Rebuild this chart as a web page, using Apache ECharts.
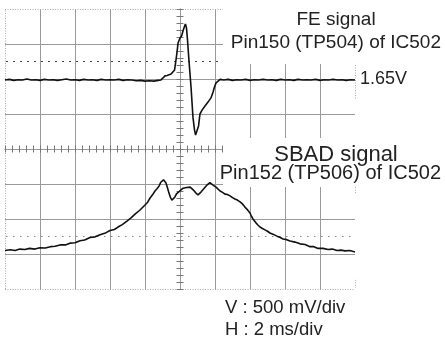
<!DOCTYPE html>
<html>
<head>
<meta charset="utf-8">
<script src="https://cdn.jsdelivr.net/npm/echarts@6/dist/echarts.min.js"></script>
<style>
  html, body { margin: 0; padding: 0; background: #fff; }
  #main { width: 445px; height: 344px; }
</style>
</head>
<body>
<div id="main"></div>
<script>
// time in ms (2 ms/div), level in divisions (500 mV/div)
const timeTicks = [-10, -8, -6, -4, -2, 0, 2, 4, 6, 8, 10];
const levelTicks = [-4, -3, -2, -1, 0, 1, 2, 3, 4];

const feSignal = [
  [-10, 1.97], [-9.75, 1.99], [-9.5, 1.96], [-9.25, 1.98], [-9, 1.97], [-8.75, 2.0],
  [-8.5, 1.97], [-8.25, 1.98], [-8, 1.96], [-7.75, 1.99], [-7.5, 1.97], [-7.25, 1.98],
  [-7, 1.96], [-6.75, 1.98], [-6.5, 2.0], [-6.25, 1.97], [-6, 1.98], [-5.75, 1.96],
  [-5.5, 1.99], [-5.25, 1.97], [-5, 1.98], [-4.75, 1.96], [-4.5, 1.99], [-4.25, 1.97],
  [-4, 1.98], [-3.75, 1.97], [-3.5, 1.99], [-3.25, 1.96], [-3, 1.98], [-2.75, 1.97],
  [-2.5, 1.95], [-2.25, 1.96], [-2, 1.94], [-1.75, 1.95], [-1.5, 1.94], [-1.25, 1.96],
  [-1.1, 1.97], [-0.97, 2.03], [-0.86, 2.09], [-0.74, 2.10], [-0.63, 2.07], [-0.51, 2.14],
  [-0.40, 2.17], [-0.31, 2.26], [-0.23, 2.54], [-0.17, 2.77], [-0.11, 3.03], [0, 3.17],
  [0.09, 3.23], [0.17, 3.37], [0.26, 3.51], [0.31, 3.57], [0.37, 3.46], [0.43, 3.11],
  [0.51, 2.54], [0.63, 1.77], [0.74, 0.91], [0.83, 0.54], [0.89, 0.40], [0.94, 0.36],
  [1.0, 0.43], [1.06, 0.66], [1.14, 1.00], [1.26, 1.11], [1.43, 1.23], [1.60, 1.34],
  [1.77, 1.46], [1.89, 1.63], [1.97, 1.77], [2.06, 1.89], [2.17, 1.94], [2.29, 1.99],
  [2.5, 1.97], [2.75, 1.99], [3, 1.96], [3.25, 1.98], [3.5, 1.97], [3.75, 1.99],
  [4, 1.96], [4.25, 1.98], [4.5, 1.97], [4.75, 1.99], [5, 1.97], [5.25, 1.98],
  [5.5, 1.96], [5.75, 1.99], [6, 1.97], [6.25, 1.98], [6.5, 1.96], [6.75, 1.99],
  [7, 1.97], [7.25, 1.98], [7.5, 1.97], [7.75, 1.99], [8, 1.96], [8.25, 1.98],
  [8.5, 1.97], [8.75, 1.99], [9, 1.97], [9.25, 1.98], [9.5, 1.96], [9.75, 1.98], [10, 1.97]
];

const sbadSignal = [
  [-10, -2.90], [-9.7, -2.88], [-9.43, -2.90], [-9.15, -2.86], [-8.86, -2.87], [-8.6, -2.84],
  [-8.3, -2.86], [-8.0, -2.82], [-7.7, -2.83], [-7.4, -2.79], [-7.14, -2.78], [-6.85, -2.74],
  [-6.55, -2.74], [-6.29, -2.69], [-6.0, -2.68], [-5.71, -2.62], [-5.45, -2.60], [-5.14, -2.53],
  [-4.85, -2.51], [-4.57, -2.45], [-4.3, -2.41], [-4.0, -2.33], [-3.75, -2.30], [-3.54, -2.23],
  [-3.3, -2.16], [-3.03, -2.06], [-2.8, -1.97], [-2.57, -1.86], [-2.3, -1.75], [-2.0, -1.60],
  [-1.85, -1.52], [-1.71, -1.40], [-1.57, -1.31], [-1.43, -1.20], [-1.3, -1.13], [-1.2, -1.06],
  [-1.1, -0.95], [-1.03, -0.91], [-0.94, -0.88], [-0.87, -0.92], [-0.8, -0.97], [-0.72, -1.10],
  [-0.63, -1.26], [-0.55, -1.38], [-0.46, -1.46], [-0.38, -1.42], [-0.29, -1.37], [-0.2, -1.28],
  [-0.11, -1.23], [0.06, -1.17], [0.18, -1.12], [0.29, -1.14], [0.38, -1.10], [0.46, -1.11],
  [0.58, -1.09], [0.69, -1.14], [0.8, -1.19], [0.91, -1.26], [1.03, -1.31], [1.1, -1.27],
  [1.2, -1.23], [1.32, -1.16], [1.43, -1.11], [1.52, -1.04], [1.6, -1.00], [1.71, -0.96],
  [1.8, -0.99], [1.89, -1.03], [1.97, -1.04], [2.06, -1.09], [2.17, -1.14], [2.29, -1.20],
  [2.43, -1.24], [2.57, -1.29], [2.71, -1.30], [2.86, -1.34], [3.0, -1.39], [3.14, -1.43],
  [3.28, -1.46], [3.43, -1.51], [3.57, -1.57], [3.71, -1.66], [3.86, -1.74], [4.0, -1.83],
  [4.08, -1.92], [4.17, -2.00], [4.26, -2.05], [4.34, -2.11], [4.45, -2.17], [4.57, -2.23],
  [4.71, -2.27], [4.86, -2.31], [5.0, -2.35], [5.14, -2.40], [5.34, -2.44], [5.54, -2.49],
  [5.7, -2.52], [5.89, -2.57], [6.1, -2.59], [6.29, -2.63], [6.57, -2.66], [6.86, -2.71],
  [7.15, -2.73], [7.43, -2.79], [7.65, -2.79], [7.89, -2.84], [8.17, -2.84], [8.46, -2.87],
  [8.7, -2.86], [8.97, -2.90], [9.2, -2.89], [9.43, -2.91], [9.7, -2.90], [10, -2.94]
];

// reference levels drawn dashed in each half of the screen
const refLevels = [2.5, -2.5];

const font = 'Liberation Sans, Arial, Helvetica, sans-serif';
const gridColor = '#9a9a9a';
const tMin = timeTicks[0], tMax = timeTicks[timeTicks.length - 1];
const vMin = levelTicks[0], vMax = levelTicks[levelTicks.length - 1];

const centreAxis = (pos, isY) => ({
  type: 'value',
  position: pos,
  min: isY ? vMin : tMin,
  max: isY ? vMax : tMax,
  interval: isY ? 1 : 2,
  axisLine: {show: true, onZero: true, onZeroAxisIndex: 0, lineStyle: {color: gridColor, width: 1}},
  axisTick: {show: true, length: 3.5, lineStyle: {color: '#777'}},
  minorTick: {show: true, splitNumber: 5, length: 3.5, lineStyle: {color: '#777'}},
  axisLabel: {show: false},
  splitLine: {show: false}
});

// inner graticule lines, drawn through the axes' own scales
const innerV = timeTicks.slice(1, -1).filter(t => t !== 0)
  .map(t => [{coord: [t, vMin]}, {coord: [t, vMax]}]);
const innerH = levelTicks.slice(1, -1).filter(v => v !== 0)
  .map(v => [{coord: [tMin, v]}, {coord: [tMax, v]}]);

const decor = (lines, style) => ({
  type: 'line',
  data: [],
  z: 0,
  markLine: {silent: true, z: 0, symbol: 'none', label: {show: false}, animation: false, data: lines, lineStyle: style}
});

const chart = echarts.init(document.getElementById('main'), null, {renderer: 'canvas'});

chart.setOption({
  animation: false,
  backgroundColor: '#fff',
  grid: {left: 5, top: 9, width: 350, height: 280, containLabel: false},
  xAxis: [centreAxis('bottom', false), centreAxis('top', false)],
  yAxis: [centreAxis('left', true), centreAxis('right', true)],
  series: [
    decor(innerV.concat(innerH), {color: gridColor, type: 'solid', width: 1}),
    decor([
      [{coord: [tMin, vMin]}, {coord: [tMin, vMax]}],
      [{coord: [tMin, vMax]}, {coord: [tMax, vMax]}],
      [{coord: [tMin, vMin]}, {coord: [tMax, vMin]}],
      [{coord: [tMax, 2.4]}, {coord: [tMax, 1.4]}],
      [{coord: [tMax, -1.09]}, {coord: [tMax, -1.29]}],
      [{coord: [tMax, -3.74]}, {coord: [tMax, -3.97]}]
    ], {color: '#aaa', type: [1, 1.5], width: 1}),
    decor([[{coord: [tMin, refLevels[0]]}, {coord: [tMax, refLevels[0]]}]],
      {color: '#444', type: [2, 5], width: 1, dashOffset: -1}),
    decor([[{coord: [tMin, refLevels[1]]}, {coord: [tMax, refLevels[1]]}]],
      {color: '#888', type: [1.5, 5.5], width: 1, dashOffset: -1}),
    {
      name: 'FE signal',
      type: 'line',
      data: feSignal,
      showSymbol: false,
      z: 5,
      lineStyle: {color: '#111', width: 1.6}
    },
    {
      name: 'SBAD signal',
      type: 'line',
      data: sbadSignal,
      showSymbol: false,
      z: 5,
      lineStyle: {color: '#111', width: 1.6}
    }
  ],
  graphic: [
    {type: 'rect', z: 2, shape: {x: 223, y: 0, width: 222, height: 64}, style: {fill: '#fff'}},
    {type: 'rect', z: 2, shape: {x: 223, y: 138, width: 222, height: 49}, style: {fill: '#fff'}},
    {type: 'text', z: 10, x: 336, y: 20, style: {text: 'FE signal', font: '19px ' + font, fill: '#222', align: 'center', verticalAlign: 'middle'}},
    {type: 'text', z: 10, x: 441, y: 43, style: {text: 'Pin150 (TP504) of IC502', font: '19px ' + font, fill: '#222', align: 'right', verticalAlign: 'middle'}},
    {type: 'text', z: 10, x: 360, y: 79, style: {text: '1.65V', font: '18px ' + font, fill: '#222', align: 'left', verticalAlign: 'middle'}},
    {type: 'text', z: 10, x: 336, y: 155, style: {text: 'SBAD signal', font: '22px ' + font, fill: '#222', align: 'center', verticalAlign: 'middle'}},
    {type: 'text', z: 10, x: 441, y: 173, style: {text: 'Pin152 (TP506) of IC502', font: '20px ' + font, fill: '#222', align: 'right', verticalAlign: 'middle'}},
    {type: 'text', z: 10, x: 225, y: 308, style: {text: 'V : 500 mV/div', font: '18.5px ' + font, fill: '#222', align: 'left', verticalAlign: 'middle'}},
    {type: 'text', z: 10, x: 225, y: 330, style: {text: 'H : 2 ms/div', font: '18.5px ' + font, fill: '#222', align: 'left', verticalAlign: 'middle'}}
  ]
});
</script>
</body>
</html>
